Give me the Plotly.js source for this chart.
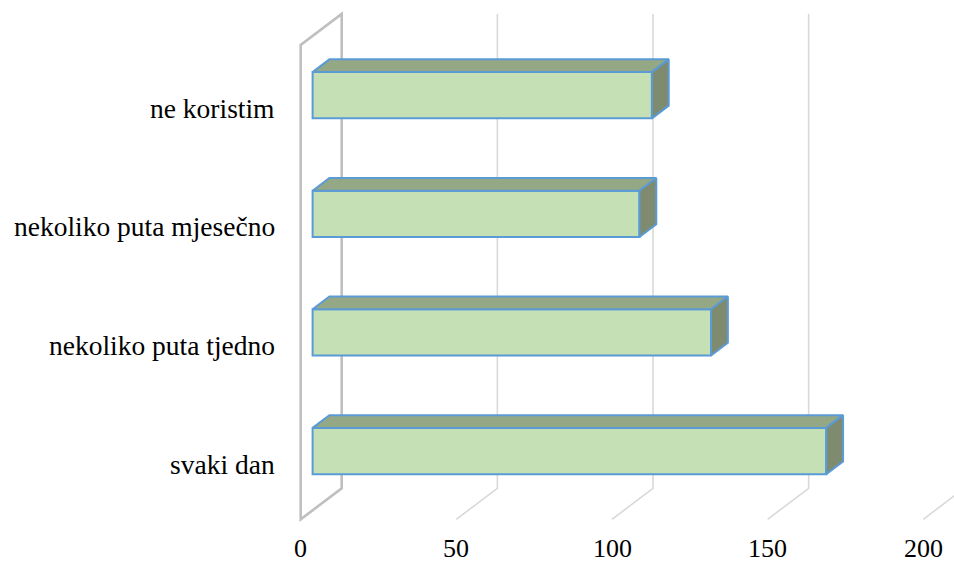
<!DOCTYPE html>
<html>
<head>
<meta charset="utf-8">
<script src="https://cdn.plot.ly/plotly-3.0.1.min.js"></script>
<style>
  html, body { margin: 0; padding: 0; background: #ffffff; }
  #chart { width: 954px; height: 563px; }
</style>
</head>
<body>
<div id="chart"></div>
<script>
// Survey answers, bottom to top
const categories = ['svaki dan', 'nekoliko puta tjedno', 'nekoliko puta mjesečno', 'ne koristim'];
const counts = [165, 128, 105, 109];

// Value axis ticks
const tickValues = [0, 50, 100, 150, 200];
const tickLabels = ['0', '50', '100', '150', '200'];

// ---- oblique 3D projection settings ----
const W = 954, H = 563;
const PX_PER_UNIT = 3.113;        // horizontal pixels per value unit
const PX_PER_CAT = 118.6;         // vertical pixels per category slot
const ORIGIN_X = 300.7, ORIGIN_Y = 519.3;   // front-bottom corner of the floor
const DEPTH_X = 41 / PX_PER_UNIT; // full depth, in value units
const DEPTH_Y = 31 / PX_PER_CAT;  // full depth, in category units
const BAR_H = 0.39;               // bar thickness (category units)
const D_FRONT = 0.29, D_BACK = 0.70;  // bar depth slice

// project (value, category position, depth) onto the 2D axes
function P(v, c, d) {
  return [v + d * DEPTH_X, c + d * DEPTH_Y];
}

const xRange = [-ORIGIN_X / PX_PER_UNIT, (W - ORIGIN_X) / PX_PER_UNIT];
const yRange = [(ORIGIN_Y - H) / PX_PER_CAT, ORIGIN_Y / PX_PER_CAT];
const nCat = categories.length;

function pathOf(pts, close) {
  return pts.map((p, k) => (k ? 'L' : 'M') + p[0] + ',' + p[1]).join(' ') + (close ? ' Z' : '');
}

// side wall at value 0
const wallPts = [P(0, 0, 0), P(0, nCat, 0), P(0, nCat, 1), P(0, 0, 1)];
const shapes = [{
  type: 'path', xref: 'x', yref: 'y', layer: 'below',
  path: pathOf(wallPts, true),
  line: { color: '#bfbfbf', width: 2.6 }, fillcolor: 'rgba(0,0,0,0)'
}];

// gridlines on the back wall, running down onto the floor
tickValues.filter(v => v > 0).forEach(v => {
  shapes.push({
    type: 'path', xref: 'x', yref: 'y', layer: 'below',
    path: pathOf([P(v, nCat, 1), P(v, 0, 1), P(v, 0, 0)], false),
    line: { color: '#d9d9d9', width: 1.6 }
  });
});

const edge = { color: '#5b9bd5', width: 2 };

// front faces of the bars
const frontTrace = {
  type: 'bar', orientation: 'h',
  x: counts,
  y: counts.map((_, i) => P(0, i + 0.5, D_FRONT)[1]),
  base: counts.map(() => P(0, 0, D_FRONT)[0]),
  width: BAR_H,
  marker: { color: '#c5e0b4', line: edge },
  hoverinfo: 'skip'
};

// top and end faces
const topX = [], topY = [], sideX = [], sideY = [];
counts.forEach((v, i) => {
  const cb = i + 0.5 - BAR_H / 2, ct = i + 0.5 + BAR_H / 2;
  [P(0, ct, D_FRONT), P(v, ct, D_FRONT), P(v, ct, D_BACK), P(0, ct, D_BACK), P(0, ct, D_FRONT)]
    .forEach(p => { topX.push(p[0]); topY.push(p[1]); });
  topX.push(null); topY.push(null);
  [P(v, cb, D_FRONT), P(v, ct, D_FRONT), P(v, ct, D_BACK), P(v, cb, D_BACK), P(v, cb, D_FRONT)]
    .forEach(p => { sideX.push(p[0]); sideY.push(p[1]); });
  sideX.push(null); sideY.push(null);
});

const topTrace = {
  type: 'scatter', mode: 'lines', x: topX, y: topY,
  fill: 'toself', fillcolor: '#94a886', line: edge, hoverinfo: 'skip'
};
const sideTrace = {
  type: 'scatter', mode: 'lines', x: sideX, y: sideY,
  fill: 'toself', fillcolor: '#7f8b6e', line: edge, hoverinfo: 'skip'
};

const serif = 'Liberation Serif';
const catFont = { family: serif, size: 27.5, color: '#000000' };
const tickFont = { family: serif, size: 26, color: '#000000' };

const annotations = [];
categories.forEach((name, i) => {
  annotations.push({
    text: name, showarrow: false,
    xref: 'paper', x: 277 / W, xanchor: 'right',
    yref: 'y', y: i + 0.5 - 0.035, yanchor: 'middle',
    font: catFont
  });
});
tickValues.forEach((v, k) => {
  annotations.push({
    text: tickLabels[k], showarrow: false,
    xref: 'x', x: v, xanchor: 'center',
    yref: 'paper', y: 1 - 548.5 / H, yanchor: 'middle',
    font: tickFont
  });
});

const layout = {
  width: W, height: H, autosize: false,
  margin: { l: 0, r: 0, t: 0, b: 0 },
  paper_bgcolor: '#ffffff', plot_bgcolor: '#ffffff',
  showlegend: false,
  xaxis: { range: xRange, visible: false, fixedrange: true },
  yaxis: { range: yRange, visible: false, fixedrange: true },
  shapes: shapes,
  annotations: annotations
};

Plotly.newPlot('chart', [frontTrace, topTrace, sideTrace], layout, { staticPlot: true, displayModeBar: false });
</script>
</body>
</html>
